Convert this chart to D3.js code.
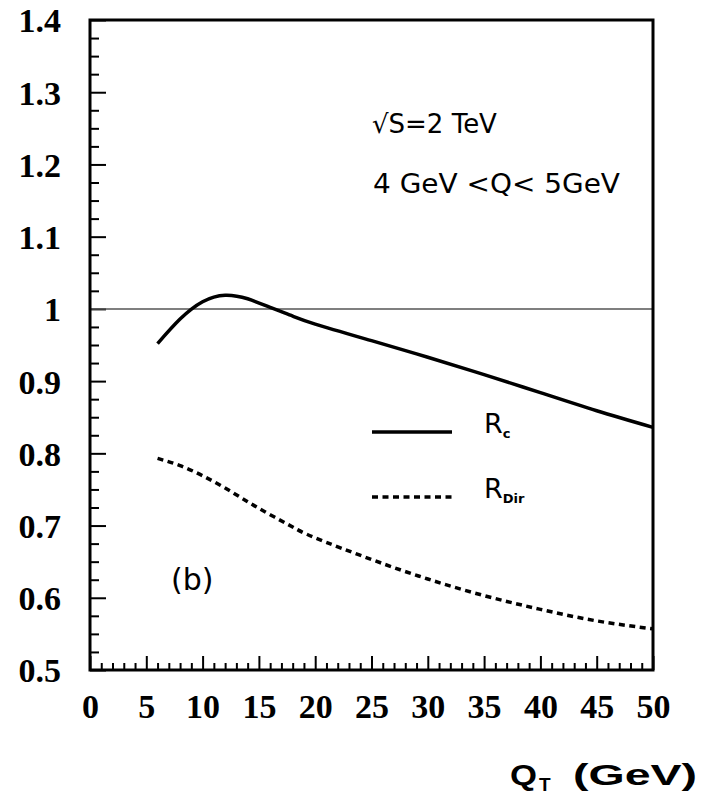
<!DOCTYPE html>
<html>
<head>
<meta charset="utf-8">
<script src="https://cdn.jsdelivr.net/npm/d3@7"></script>
<style>
  body { margin: 0; background: #fff; }
  svg { display: block; }
  .tickLabel text { font-family: "Liberation Serif", "Times New Roman", serif; font-weight: bold; font-size: 34px; fill: #000; }
  .note { font-family: "DejaVu Sans", sans-serif; fill: #000; }
</style>
</head>
<body>
<div class="chart"></div>
<script>
// data
var qt = [6, 8, 10, 12, 14, 16, 18, 20, 25, 30, 35, 40, 45, 50];
var rc = [0.952, 0.986, 1.010, 1.019, 1.014, 1.002, 0.990, 0.979, 0.956, 0.933, 0.909, 0.884, 0.859, 0.836];
var rdir = [0.793, 0.783, 0.769, 0.752, 0.733, 0.715, 0.698, 0.683, 0.653, 0.626, 0.603, 0.584, 0.568, 0.557];
var xTicks = [0, 5, 10, 15, 20, 25, 30, 35, 40, 45, 50];
var yTicks = [0.5, 0.6, 0.7, 0.8, 0.9, 1, 1.1, 1.2, 1.3, 1.4];

var width = 704, height = 804;
var margin = {top: 20, bottom: 670, left: 90, right: 653};

var svg = d3.select(".chart")
    .append("svg")
    .attr("width", width)
    .attr("height", height);

var x = d3.scaleLinear().domain([0, 50]).range([margin.left, margin.right]);
var y = d3.scaleLinear().domain([0.5, 1.4]).range([margin.bottom, margin.top]);

// minor ticks
var xMinor = d3.range(0, 51).filter(function(d){ return d % 5 != 0; });
var yMinor = d3.range(0, 37).map(function(i){ return 0.5 + i * 0.025; })
    .filter(function(d, i){ return i % 4 != 0; });

svg.append("g")
    .attr("transform", "translate(0," + margin.bottom + ")")
    .call(d3.axisBottom(x).tickValues(xMinor).tickSize(-7).tickFormat(""))
    .call(function(g){ g.select(".domain").remove(); })
    .selectAll("line").attr("stroke", "#000").attr("stroke-width", 2);

svg.append("g")
    .attr("transform", "translate(" + margin.left + ",0)")
    .call(d3.axisLeft(y).tickValues(yMinor).tickSize(-9).tickFormat(""))
    .call(function(g){ g.select(".domain").remove(); })
    .selectAll("line").attr("stroke", "#000").attr("stroke-width", 2);

// major ticks + labels
var xAxis = svg.append("g")
    .attr("class", "tickLabel")
    .attr("transform", "translate(0," + margin.bottom + ")")
    .call(d3.axisBottom(x).tickValues(xTicks).tickSize(-14).tickPadding(24).tickFormat(d3.format("d")));
xAxis.select(".domain").remove();
xAxis.selectAll("line").attr("stroke", "#000").attr("stroke-width", 2);
xAxis.selectAll("text").attr("font-family", null).attr("font-size", null);

var yAxis = svg.append("g")
    .attr("class", "tickLabel")
    .attr("transform", "translate(" + margin.left + ",0)")
    .call(d3.axisLeft(y).tickValues(yTicks).tickSize(-16).tickPadding(29)
        .tickFormat(function(d){ return d == 1 ? "1" : d3.format(".1f")(d); }));
yAxis.select(".domain").remove();
yAxis.selectAll("line").attr("stroke", "#000").attr("stroke-width", 2);
yAxis.selectAll("text").attr("font-family", null).attr("font-size", null).attr("dy", "0.35em");

// reference line at 1
svg.append("line")
    .attr("x1", x(0))
    .attr("x2", x(50))
    .attr("y1", y(1))
    .attr("y2", y(1))
    .attr("stroke", "#555")
    .attr("stroke-width", 1.5);

// frame
svg.append("rect")
    .attr("x", margin.left)
    .attr("y", margin.top)
    .attr("width", margin.right - margin.left)
    .attr("height", margin.bottom - margin.top)
    .attr("fill", "none")
    .attr("stroke", "#000")
    .attr("stroke-width", 3);

var line = d3.line()
    .x(function(d, i){ return x(qt[i]); })
    .y(function(d){ return y(d); })
    .curve(d3.curveNatural);

svg.append("path")
    .datum(rc)
    .attr("d", line)
    .attr("fill", "none")
    .attr("stroke", "#000")
    .attr("stroke-width", 3.5);

svg.append("path")
    .datum(rdir)
    .attr("d", line)
    .attr("fill", "none")
    .attr("stroke", "#000")
    .attr("stroke-width", 3.5)
    .attr("stroke-dasharray", "6,4.5");

// legend
svg.append("line")
    .attr("x1", 372).attr("x2", 452)
    .attr("y1", 432).attr("y2", 432)
    .attr("stroke", "#000")
    .attr("stroke-width", 3.5);

svg.append("line")
    .attr("x1", 372).attr("x2", 452)
    .attr("y1", 497).attr("y2", 497)
    .attr("stroke", "#000")
    .attr("stroke-width", 3.5)
    .attr("stroke-dasharray", "6,4.5");

var lg1 = svg.append("text")
    .attr("class", "note")
    .attr("x", 484)
    .attr("y", 433)
    .attr("font-size", "27px");
lg1.append("tspan").text("R");
lg1.append("tspan").attr("dy", 5).attr("font-size", "13px").attr("font-weight", "bold").text("c");

var lg2 = svg.append("text")
    .attr("class", "note")
    .attr("x", 484)
    .attr("y", 498)
    .attr("font-size", "27px");
lg2.append("tspan").text("R");
lg2.append("tspan").attr("dy", 5).attr("font-size", "13px").attr("font-weight", "bold").text("Dir");

// annotations
svg.append("text")
    .attr("class", "note")
    .attr("x", 372)
    .attr("y", 133)
    .attr("font-size", "26px")
    .text("√S=2 TeV");

svg.append("text")
    .attr("class", "note")
    .attr("x", 373)
    .attr("y", 193)
    .attr("font-size", "26px")
    .attr("textLength", 247)
    .attr("lengthAdjust", "spacingAndGlyphs")
    .text("4 GeV <Q< 5GeV");

svg.append("text")
    .attr("class", "note")
    .attr("x", 171)
    .attr("y", 590)
    .attr("font-size", "30px")
    .text("(b)");

// x axis title
svg.append("text")
    .attr("x", 510)
    .attr("y", 785)
    .attr("font-family", "Liberation Sans, Arial, sans-serif")
    .attr("font-weight", "bold")
    .attr("font-size", "29px")
    .attr("textLength", 27)
    .attr("lengthAdjust", "spacingAndGlyphs")
    .text("Q");

svg.append("text")
    .attr("x", 539)
    .attr("y", 791)
    .attr("font-family", "Liberation Sans, Arial, sans-serif")
    .attr("font-weight", "bold")
    .attr("font-size", "19px")
    .text("T");

svg.append("text")
    .attr("x", 573)
    .attr("y", 785)
    .attr("font-family", "Liberation Sans, Arial, sans-serif")
    .attr("font-weight", "bold")
    .attr("font-size", "29px")
    .attr("textLength", 124)
    .attr("lengthAdjust", "spacingAndGlyphs")
    .text("(GeV)");
</script>
</body>
</html>
